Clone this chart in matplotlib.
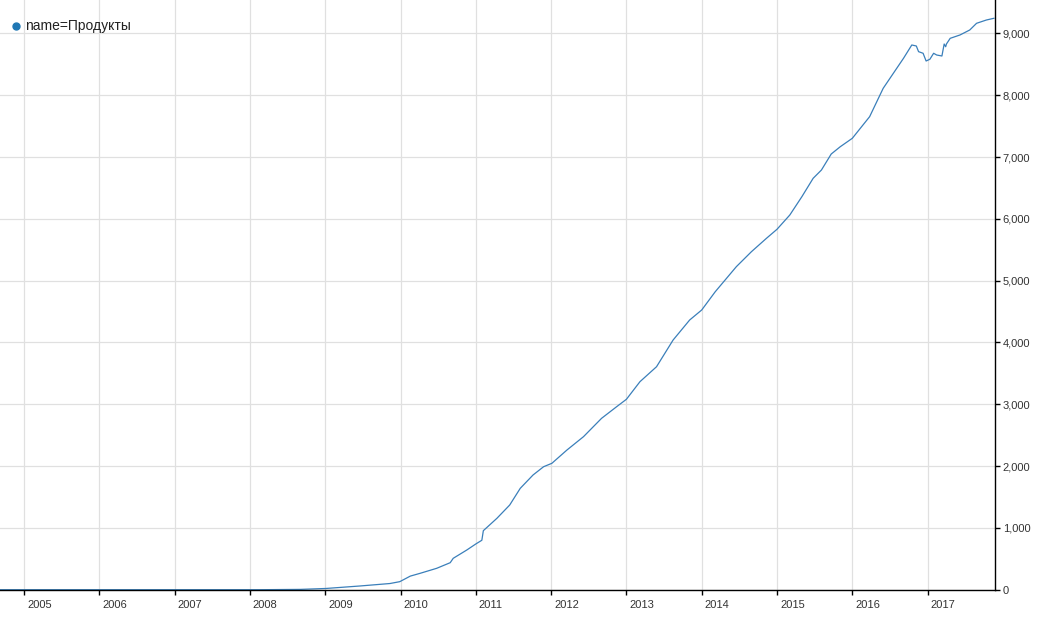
import numpy as np
import matplotlib
matplotlib.use("Agg")
import matplotlib.pyplot as plt
import matplotlib.transforms as mtransforms
from matplotlib.ticker import FuncFormatter

plt.rcParams['font.family'] = ['Liberation Sans', 'DejaVu Sans']

# data (decimal year, value)
years = [2004.68, 2008.13, 2008.67, 2009.01, 2009.46, 2009.86, 2009.99, 2010.13,
         2010.26, 2010.48, 2010.66, 2010.70, 2010.88, 2011.00, 2011.08, 2011.10,
         2011.28, 2011.45, 2011.59, 2011.76, 2011.90, 2012.01, 2012.21, 2012.43,
         2012.67, 2012.87, 2013.00, 2013.18, 2013.40, 2013.62, 2013.84, 2014.00,
         2014.18, 2014.46, 2014.66, 2014.86, 2015.00, 2015.17, 2015.33, 2015.48,
         2015.59, 2015.72, 2015.84, 2016.00, 2016.23, 2016.41, 2016.68, 2016.79,
         2016.85, 2016.88, 2016.94, 2016.98, 2017.03, 2017.08, 2017.12, 2017.19,
         2017.22, 2017.24, 2017.25, 2017.30, 2017.43, 2017.56, 2017.65, 2017.78,
         2017.88]
values = [0, 0, 5, 20, 60, 100, 130, 220,
          265, 346, 437, 508, 642, 740, 800, 955,
          1155, 1370, 1640, 1856, 1990, 2045, 2260, 2476,
          2773, 2961, 3081, 3366, 3608, 4040, 4364, 4526,
          4822, 5227, 5469, 5686, 5832, 6063, 6359, 6657,
          6791, 7050, 7168, 7304, 7654, 8113, 8599, 8814,
          8798, 8706, 8680, 8555, 8583, 8680, 8652, 8636,
          8830, 8786, 8830, 8922, 8976, 9057, 9165, 9218,
          9246]
year_ticks = list(range(2005, 2018))
series_name = "name=Продукты"

line_color = "#3a7fba"
grid_color = "#e0e0e0"
text_color = "#333333"

fig = plt.figure(figsize=(10.43, 6.17), dpi=100)
ax = fig.add_axes([0, 27.3 / 617, 995 / 1043, 589.7 / 617])

ax.plot(years, values, color=line_color, linewidth=0.9)

ax.set_xlim(2004.681, 2017.895)
ax.set_ylim(0, 9542)

ax.set_xticks(year_ticks)
ax.set_xticklabels([str(y) for y in year_ticks])
ax.set_yticks(np.arange(0, 9001, 1000))
ax.yaxis.set_major_formatter(FuncFormatter(lambda v, p: f"{int(v):,}"))
ax.yaxis.tick_right()

ax.grid(True, color=grid_color, linewidth=0.9)
ax.set_axisbelow(True)

for side in ["top", "left"]:
    ax.spines[side].set_visible(False)
for side in ["bottom", "right"]:
    ax.spines[side].set_color("black")
    ax.spines[side].set_linewidth(1)

ax.tick_params(axis="x", direction="out", length=3.6, width=1, pad=4,
               labelsize=8, labelcolor=text_color)
ax.tick_params(axis="y", direction="out", length=3.6, width=1, pad=2,
               labelsize=8, labelcolor=text_color, right=True, left=False)

# year labels sit to the right of their tick
offset = mtransforms.ScaledTranslation(0.03, 0, fig.dpi_scale_trans)
for lbl in ax.get_xticklabels():
    lbl.set_horizontalalignment("left")
    lbl.set_transform(lbl.get_transform() + offset)

# legend
ax.plot([16 / 995], [1 - 26 / 589.7], "o", color="#1f77b4", markersize=5,
        transform=ax.transAxes, clip_on=False)
ax.text(25 / 995, 1 - 26 / 589.7, series_name, transform=ax.transAxes,
        ha="left", va="center", fontsize=10, color="#222222")

fig.savefig("out.png", dpi=100)
